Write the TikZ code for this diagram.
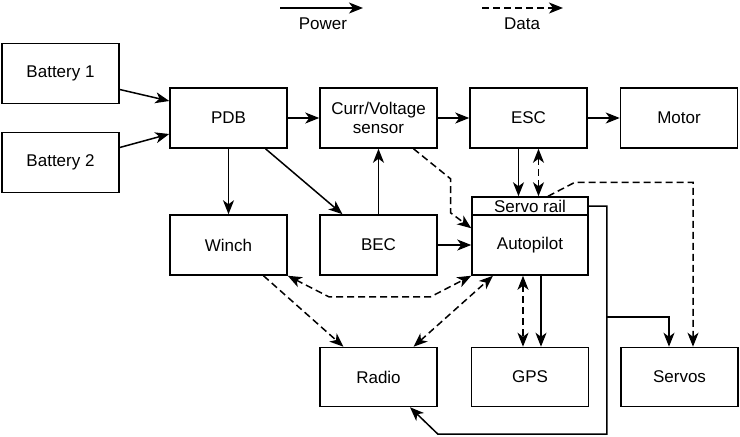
\documentclass[tikz,border=0pt]{standalone}
\usepackage{fontspec}
\setmainfont{Liberation Sans}
\usetikzlibrary{arrows.meta,calc}
\tikzset{
  blk/.style={draw, line width=1.5pt, minimum width=117pt, minimum height=60pt,
    inner sep=2pt, align=center},
  railbox/.style={blk, minimum width=116pt, minimum height=18pt, inner sep=0pt},
  tip/.tip={Stealth[length=14pt,width=11pt,inset=4pt]},
  wire/.style={line width=1.5pt},
  pwr/.style={wire, -tip},
  dat/.style={pwr, dash pattern=on 7pt off 4pt},
  datboth/.style={wire, dash pattern=on 7pt off 4pt, tip-tip},
  legtxt/.style={inner sep=0pt},
}

\begin{document}
\begin{tikzpicture}[x=1pt, y=-1pt, font=\fontsize{17}{19.5}\selectfont]
    \useasboundingbox (0,0) rectangle (740,437);
    % legend
    \coordinate (pwleg) at (280,8);
    \coordinate (dtleg) at (482,8);
    \draw[pwr] (pwleg) -- ++(83,0);
    \draw[dat] (dtleg) -- ++(81,0);
    \node[legtxt] (pwtxt) at (323,24) {Power};
    \node[legtxt] (dttxt) at (522,24) {Data};
    % blocks
    \node[blk] (bat1) at (60.5,73.5) {Battery 1};
    \node[blk] (bat2) at (60.5,162.5) {Battery 2};
    \node[blk] (pdb) at (228.5,118) {PDB};
    \node[blk] (sensor) at (378.5,118) {Curr/Voltage\\sensor};
    \node[blk] (esc) at (528.5,118) {ESC};
    \node[blk] (motor) at (679,118) {Motor};
    \node[blk] (winch) at (228.5,245) {Winch};
    \node[blk] (bec) at (378.5,245) {BEC};
    \node[blk, minimum width=116pt] (ap) at (530,245) {Autopilot};
    \node[railbox] (rail) at (530,206) {Servo rail};
    \node[blk, minimum height=59pt] (radio) at (378.5,377) {Radio};
    \node[blk, minimum height=59pt] (gps) at (530,377) {GPS};
    \node[blk, minimum height=59pt] (servos) at (679.5,377) {Servos};
    % power
    \draw[pwr] ([yshift=-16pt]bat1.east) -- ([yshift=17pt]pdb.west);
    \draw[pwr] ([yshift=15pt]bat2.east) -- ([yshift=-16pt]pdb.west);
    \draw[pwr] (pdb) -- (sensor);
    \draw[pwr] (sensor) -- (esc);
    \draw[pwr] (esc) -- (motor);
    \draw[pwr] (pdb) -- (winch);
    \draw[pwr] ([xshift=37pt]pdb.south) -- ([xshift=-36pt]bec.north);
    \draw[pwr] (bec) -- (sensor);
    \draw[pwr] (bec) -- (ap);
    \draw[pwr] ([xshift=-10pt]esc.south) -- ([xshift=-10pt]esc.south |- rail.north);
    \draw[pwr] ([xshift=11pt]ap.south) -- ([xshift=11pt]ap.south |- gps.north);
    \draw[pwr] (rail.east) -- ++(18,0) -- ++(0,111) coordinate (tap) -- ++(0,117)
      -- ++(-169,0) -- ([xshift=31.5pt]radio.south);
    \draw[pwr] (tap) -| ([xshift=-10.5pt]servos.north);
    % data
    \draw[dat] ([xshift=35pt]sensor.south) -- ++(37,30) -- ++(0,34) -- ([yshift=-14pt]ap.north west);
    \draw[datboth] ([xshift=10pt]esc.south) -- ([xshift=10pt]esc.south |- rail.north);
    \draw[dat] ([xshift=18pt]rail.north) -- ++(27,-14) -| ([xshift=13.5pt]servos.north);
    \draw[datboth] (winch.south east) -- ++(41,21) -- ++(102,0) -- (ap.south west);
    \draw[dat] ([xshift=35pt]winch.south) -- ([xshift=-35pt]radio.north);
    \draw[datboth] ([xshift=35pt]radio.north) -- ([xshift=-37pt]ap.south);
    \draw[datboth] ([xshift=-7pt]ap.south) -- ([xshift=-7pt]ap.south |- gps.north);
  \end{tikzpicture}
\end{document}
